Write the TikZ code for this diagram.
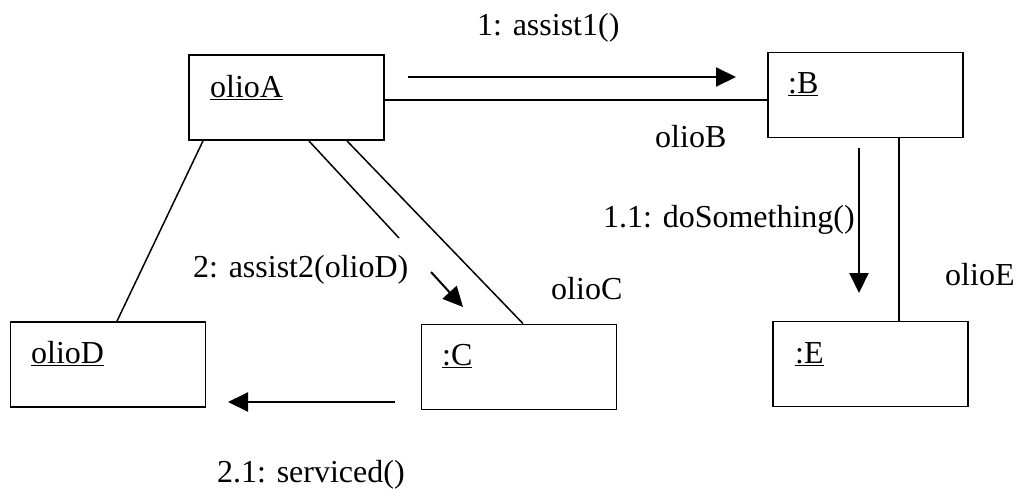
\documentclass[tikz,border=0pt]{standalone}
\usepackage{fontspec}
\setmainfont{Liberation Serif}
\usetikzlibrary{arrows.meta}
\begin{document}
\begin{tikzpicture}[x=1pt,y=-1pt,
  obj/.style={draw, line width=1.8pt, minimum width=195pt, minimum height=85pt, inner sep=0pt},
  lbl/.style={anchor=base west, inner sep=0pt, font=\fontsize{32}{38}\selectfont},
  assoc/.style={line width=1.5pt},
  msg/.style={line width=2pt, -{Triangle[length=20pt,width=19pt]}}
]
\useasboundingbox (0,0) rectangle (1016,488);
% objects
\node[obj] (A) at (286.5,97.5) {};
\node[obj] (B) at (865.5,95) {};
\node[obj] (C) at (519,367) {};
\node[obj] (D) at (108,364.5) {};
\node[obj] (E) at (870.5,364) {};
\node[lbl] (tA) at (210,97) {\underline{olioA}};
\node[lbl] (tB) at (788,93) {\underline{:B}};
\node[lbl] (tC) at (442,365) {\underline{:C}};
\node[lbl] (tD) at (31,363) {\underline{olioD}};
\node[lbl] (tE) at (795,363) {\underline{:E}};
% associations (links)
\draw[assoc] (A.east |- 0,100) -- (B.west |- 0,100);
\draw[assoc] (A.south -| 203,0) -- (D.north -| 117,0);
\draw[assoc] (A.south -| 347,0) -- (C.north -| 523,0);
\draw[assoc] (B.south -| 899,0) -- (E.north -| 899,0);
% role labels
\node[lbl] (rB) at (655,147) {olioB};
\node[lbl] (rC) at (551,299) {olioC};
\node[lbl] (rE) at (945,285) {olioE};
% messages
\coordinate (m1s) at (408,77);
\coordinate (m1e) at (736,77);
\draw[msg] (m1s) -- (m1e);
\node[lbl] (l1) at (477,35) {1: assist1()};
\coordinate (m11s) at (859,148);
\coordinate (m11e) at (859,293);
\draw[msg] (m11s) -- (m11e);
\node[lbl] (l11) at (603,227) {1.1: doSomething()};
\coordinate (m2a) at (309,141);
\coordinate (m2b) at (399,238);
\coordinate (m2c) at (431,272);
\coordinate (m2d) at (463,307);
\draw[assoc] (m2a) -- (m2b);
\draw[msg] (m2c) -- (m2d);
\node[lbl] (l2) at (193,277) {2: assist2(olioD)};
\coordinate (m21s) at (395,402);
\coordinate (m21e) at (228,402);
\draw[msg] (m21s) -- (m21e);
\node[lbl] (l21) at (217,482) {2.1: serviced()};
\end{tikzpicture}
\end{document}
